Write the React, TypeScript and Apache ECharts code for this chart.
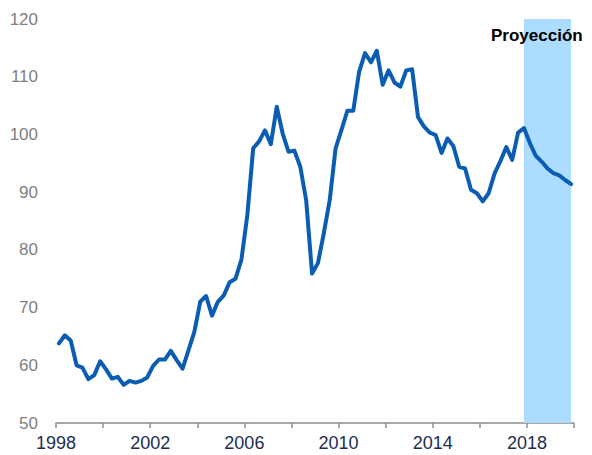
import React, { useEffect, useRef } from "react";
import * as echarts from "echarts";

// Quarterly index values, 1998Q1 .. 2019Q4 (plotted at mid-quarter)
const startYear = 1998;
const values: number[] = [
  63.8, 65.2, 64.3, 60.0, 59.6, 57.6, 58.3, 60.7, 59.3, 57.7,
  58.0, 56.6, 57.3, 57.0, 57.3, 57.9, 59.9, 61.0, 61.0, 62.5,
  60.9, 59.4, 62.6, 65.8, 71.0, 72.0, 68.6, 71.0, 72.1, 74.4,
  75.0, 78.3, 86.0, 97.6, 98.8, 100.7, 98.3, 104.8, 100.2, 97.0,
  97.2, 94.4, 88.6, 75.9, 77.7, 82.9, 88.6, 97.6, 100.8, 104.1,
  104.1, 110.9, 114.1, 112.5, 114.5, 108.6, 111.1, 109.0, 108.3, 111.1,
  111.3, 103.0, 101.4, 100.3, 99.9, 96.8, 99.3, 98.0, 94.4, 94.1,
  90.4, 89.8, 88.4, 89.8, 93.2, 95.4, 97.8, 95.6, 100.3, 101.1,
  98.5, 96.3, 95.3, 94.1, 93.3, 92.9, 92.1, 91.4,
];
const projectionStart = 2017.875;
const projectionEnd = 2019.875;
const projectionLabel = "Proyección";
const xMin = 1998;
const xMax = 2020;
const yMin = 50;
const yMax = 120;

export default function App() {
  const ref = useRef<HTMLDivElement>(null);
  useEffect(() => {
    if (!ref.current) return;
    const chart = echarts.init(ref.current, undefined, { renderer: "svg" });
    const seriesData = values.map((v, i) => [startYear + 0.125 + i * 0.25, v]);
    chart.setOption({
      animation: false,
      grid: { left: 56, right: 18, top: 19, bottom: 32, containLabel: false },
      xAxis: {
        type: "value",
        min: xMin,
        max: xMax,
        interval: 2,
        splitLine: { show: false },
        axisLine: { show: true, lineStyle: { color: "#8c8c8c", width: 1.5 } },
        axisTick: { show: true, length: 5, inside: false, lineStyle: { color: "#8c8c8c", width: 1.5 } },
        axisLabel: {
          margin: 11,
          color: "#1c2e52",
          fontSize: 18,
          fontFamily: "Liberation Sans, Arial, sans-serif",
          formatter: (v: number) => ((v - xMin) % 4 === 0 ? String(v) : ""),
        },
      },
      yAxis: {
        type: "value",
        min: yMin,
        max: yMax,
        interval: 10,
        splitLine: { show: false },
        axisLine: { show: false },
        axisTick: { show: false },
        axisLabel: {
          margin: 18,
          color: "#808080",
          fontSize: 17,
          fontFamily: "Liberation Sans, Arial, sans-serif",
        },
      },
      series: [
        {
          type: "line",
          data: [],
          z: 1,
          silent: true,
          markArea: {
            silent: true,
            itemStyle: { color: "#acdcff" },
            data: [[{ xAxis: projectionStart }, { xAxis: projectionEnd }]],
          },
        },
        {
          type: "line",
          z: 3,
          data: seriesData,
          showSymbol: false,
          symbol: "none",
          lineStyle: { color: "#0b5db3", width: 4, join: "round", cap: "round" },
        },
      ],
      graphic: [
        {
          type: "text",
          left: 491,
          top: 27,
          z: 10,
          style: {
            text: projectionLabel,
            fill: "#000000",
            font: "bold 17px Liberation Sans, Arial, sans-serif",
          },
        },
      ],
    });
    return () => chart.dispose();
  }, []);
  return (
    <div
      ref={ref}
      style={{ position: "absolute", left: 0, top: 0, width: 592, height: 455, background: "#fff" }}
    />
  );
}
